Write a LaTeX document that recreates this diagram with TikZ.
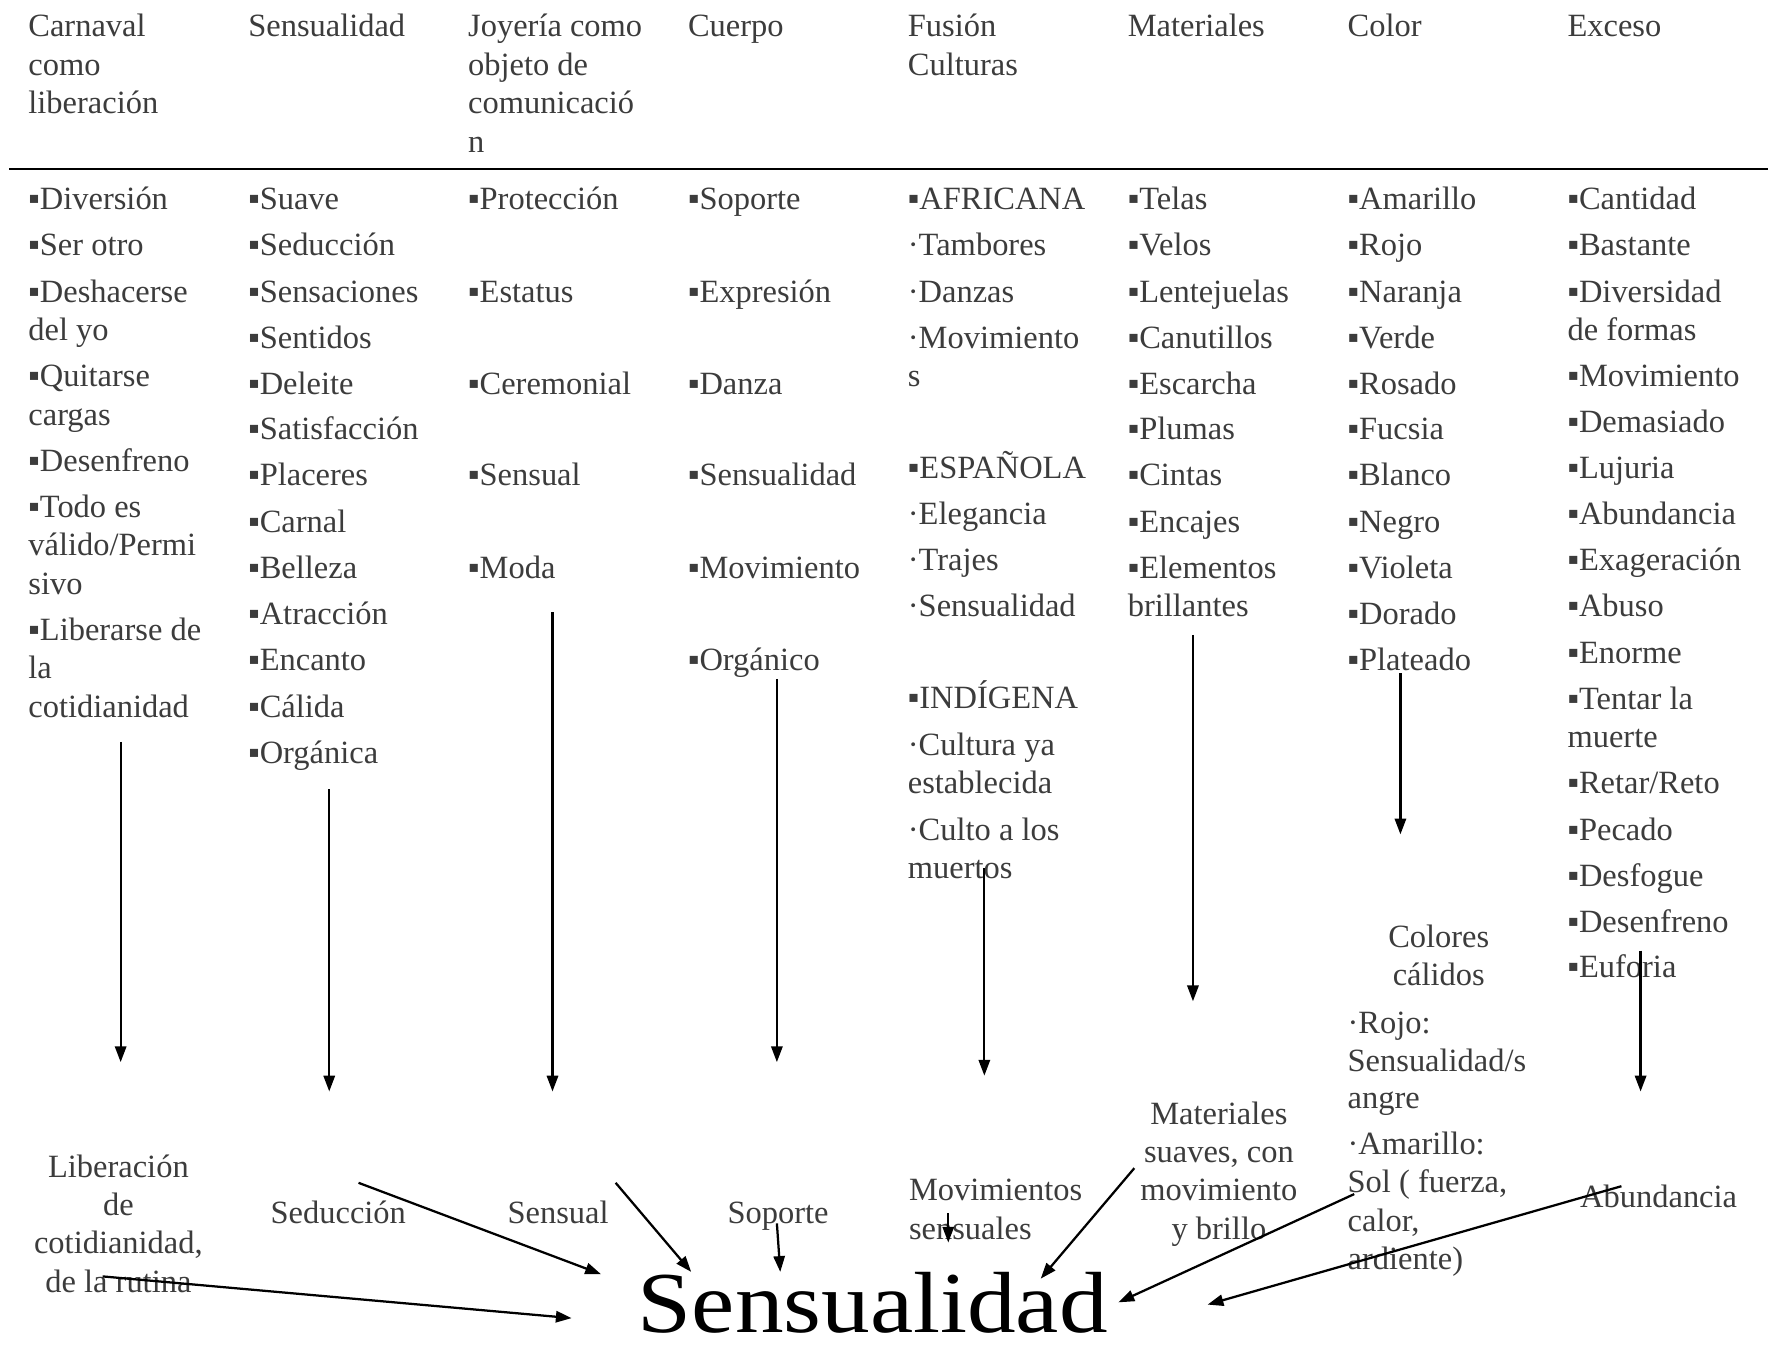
\documentclass[tikz,border=0pt]{standalone}
\usepackage{fontspec}
\setmainfont{Liberation Serif}
\newfontfamily\bigfont[FakeStretch=1.12]{Liberation Serif}
\usetikzlibrary{arrows.meta}
\definecolor{txt}{RGB}{60,60,60}
\newcommand\sq{▪}
\newcommand\dt{·}
\newcommand\itemfont{\fontsize{28.8}{34.3}\selectfont}
\begin{document}
\begin{tikzpicture}[x=1pt,y=-1pt,
  item/.style={anchor=base west,inner sep=0pt,font=\itemfont,text=txt},
  lab/.style={anchor=base,inner sep=0pt,font=\itemfont,text=txt},
  arr/.style={-{Triangle[length=14pt,width=10pt]},line width=2pt}]
\useasboundingbox (0,0) rectangle (1568,1197);
\fill[white] (0,0) rectangle (1568,1197);

% headers
\foreach \x/\y/\w [count=\i] in {25/22/{Carnaval},25/57/{como},25/91/{liberación},
  220/22/{Sensualidad},415/22/{Joyería como},415/57/{objeto de},415/91/{comunicació},415/125/{n},
  610/22/{Cuerpo},805/22/{Fusión},805/57/{Culturas},1000/22/{Materiales},1195/22/{Color},1390/22/{Exceso}}
  \node[item] (h\i) at (\x,{\y+10}) {\w};

% rule
\coordinate (rl) at (8,150);
\coordinate (rr) at (1568,150);
\draw[line width=2.4pt] (rl) -- (rr);

% column 1
\foreach \y/\w [count=\i] in {176/{\sq Diversión},217/{\sq Ser otro},258/{\sq Deshacerse},292/{del yo},
  333/{\sq Quitarse},367/{cargas},408/{\sq Desenfreno},449/{\sq Todo es},483/{válido/Permi},517/{sivo},
  558/{\sq Liberarse de},592/{la},626/{cotidianidad}}
  \node[item] (ca\i) at (25,{\y+10}) {\w};
% column 2
\foreach \y/\w [count=\i] in {176/{\sq Suave},217/{\sq Seducción},258/{\sq Sensaciones},299/{\sq Sentidos},
  340/{\sq Deleite},380/{\sq Satisfacción},421/{\sq Placeres},462/{\sq Carnal},503/{\sq Belleza},
  544/{\sq Atracción},585/{\sq Encanto},626/{\sq Cálida},667/{\sq Orgánica}}
  \node[item] (cb\i) at (220,{\y+10}) {\w};
% column 3
\foreach \y/\w [count=\i] in {176/{\sq Protección},258/{\sq Estatus},340/{\sq Ceremonial},421/{\sq Sensual},503/{\sq Moda}}
  \node[item] (cc\i) at (415,{\y+10}) {\w};
% column 4
\foreach \y/\w [count=\i] in {176/{\sq Soporte},258/{\sq Expresión},340/{\sq Danza},421/{\sq Sensualidad},503/{\sq Movimiento},585/{\sq Orgánico}}
  \node[item] (cd\i) at (610,{\y+10}) {\w};
% column 5
\foreach \y/\w [count=\i] in {176/{\sq AFRICANA},217/{\dt Tambores},258/{\dt Danzas},299/{\dt Movimiento},333/{s},
  414/{\sq ESPAÑOLA},455/{\dt Elegancia},496/{\dt Trajes},537/{\dt Sensualidad},
  618/{\sq INDÍGENA},660/{\dt Cultura ya},694/{establecida},735/{\dt Culto a los},769/{muertos}}
  \node[item] (ce\i) at (805,{\y+10}) {\w};
% column 6
\foreach \y/\w [count=\i] in {176/{\sq Telas},217/{\sq Velos},258/{\sq Lentejuelas},299/{\sq Canutillos},
  340/{\sq Escarcha},380/{\sq Plumas},421/{\sq Cintas},462/{\sq Encajes},503/{\sq Elementos},537/{brillantes}}
  \node[item] (cf\i) at (1000,{\y+10}) {\w};
% column 7
\foreach \y/\w [count=\i] in {176/{\sq Amarillo},217/{\sq Rojo},258/{\sq Naranja},299/{\sq Verde},340/{\sq Rosado},
  380/{\sq Fucsia},421/{\sq Blanco},462/{\sq Negro},503/{\sq Violeta},544/{\sq Dorado},585/{\sq Plateado}}
  \node[item] (cg\i) at (1195,{\y+10}) {\w};
% column 8
\foreach \y/\w [count=\i] in {176/{\sq Cantidad},217/{\sq Bastante},258/{\sq Diversidad},292/{de formas},
  333/{\sq Movimiento},374/{\sq Demasiado},414/{\sq Lujuria},455/{\sq Abundancia},496/{\sq Exageración},
  537/{\sq Abuso},578/{\sq Enorme},619/{\sq Tentar la},653/{muerte},694/{\sq Retar/Reto},735/{\sq Pecado},
  776/{\sq Desfogue},817/{\sq Desenfreno},857/{\sq Euforia}}
  \node[item] (ch\i) at (1390,{\y+10}) {\w};

% bottom labels
\foreach \y/\w [count=\i] in {1034/{Liberación},1068/{de},1102/{cotidianidad,},1136/{de la rutina}}
  \node[lab] (la\i) at (105,{\y+10}) {\w};
\node[lab] (lb) at (300,1085) {Seducción};
\node[lab] (lc) at (495,1085) {Sensual};
\node[lab] (ld) at (690,1085) {Soporte};
\foreach \y/\w [count=\i] in {1055/{Movimientos},1089/{sensuales}}
  \node[item] (le\i) at (806,{\y+10}) {\w};
\foreach \y/\w [count=\i] in {987/{Materiales},1021/{suaves, con},1055/{movimiento},1089/{y brillo}}
  \node[lab] (lf\i) at (1081,{\y+10}) {\w};
\foreach \y/\w [count=\i] in {830/{Colores},864/{cálidos}}
  \node[lab] (lg\i) at (1276,{\y+10}) {\w};
\foreach \y/\w [count=\i] in {907/{\dt Rojo:},940/{Sensualidad/s},973/{angre},1014/{\dt Amarillo:},
  1048/{Sol ( fuerza,},1082/{calor,},1116/{ardiente)}}
  \node[item] (lgi\i) at (1195,{\y+10}) {\w};
\node[lab] (lh) at (1471,1071) {Abundancia};

\node[anchor=base,inner sep=0pt,font=\bigfont\fontsize{77}{80}\selectfont,text=black] (big) at (774,1182) {Sensualidad};

% vertical arrows
\foreach \x/\ya/\yb [count=\i] in {107/658/942,292/700/968,490/543/968,689/602/942,873/770/954,1058/563/888,1242/597/740,1455/843/968}{
  \coordinate (vs\i) at (\x,\ya);
  \coordinate (ve\i) at (\x,\yb);
  \draw[arr] (vs\i) -- (ve\i);
}
% arrows into Sensualidad
\foreach \xa/\ya/\xb/\yb [count=\i] in {91/1132/507/1169,318/1049/533/1130,546/1049/613/1128,689/1085/692/1128,
  841/1076/841/1102,1006/1036/923/1134,1201/1059/992/1155,1438/1052/1071/1157}{
  \coordinate (bs\i) at (\xa,\ya);
  \coordinate (be\i) at (\xb,\yb);
  \draw[arr] (bs\i) -- (be\i);
}
\end{tikzpicture}
\end{document}
